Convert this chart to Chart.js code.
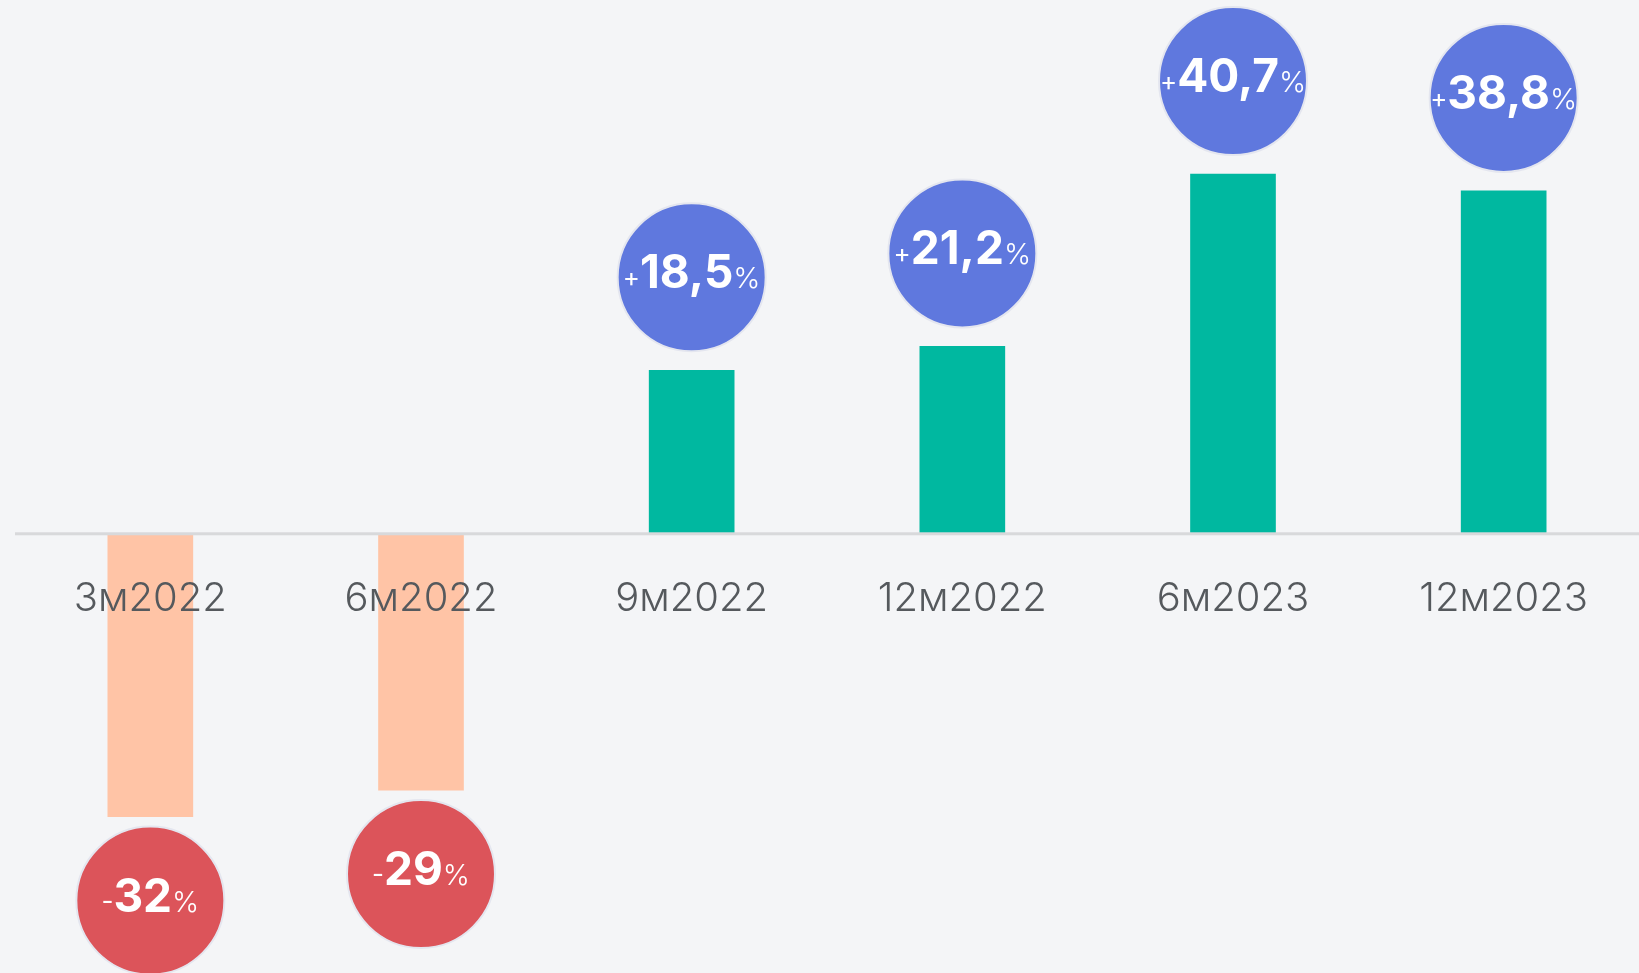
<!DOCTYPE html>
<html>
<head>
<meta charset="utf-8">
<script src="https://cdn.jsdelivr.net/npm/chart.js@4"></script>
<style>
    html, body { margin: 0; padding: 0; background: #f4f5f7; }
    #grafico { display: block; }
</style>
</head>
<body>
<canvas id="grafico" width="1639" height="973"></canvas>
<script>
const periodos = ['3м2022', '6м2022', '9м2022', '12м2022', '6м2023', '12м2023'];
const variacao = [-32, -29, 18.5, 21.2, 40.7, 38.8];

const corPositiva = '#00b8a0';
const corNegativa = '#ffc4a6';
const bolhaPositiva = '#5f78de';
const bolhaNegativa = '#dc545a';

const fonte = 'Inter, "Open Sans", sans-serif';

const bolhas = {
    id: 'bolhas',
    afterDatasetsDraw(chart) {
        const c = chart.ctx;
        const area = chart.chartArea;
        const zero = chart.scales.y.getPixelForValue(0);

        // linha do zero
        c.save();
        c.fillStyle = '#d8d9db';
        c.fillRect(area.left, zero - 1.5, area.right - area.left, 3);

        // rótulos das categorias
        c.fillStyle = '#55595d';
        c.font = '300 40px ' + fonte;
        c.textAlign = 'center';
        c.textBaseline = 'alphabetic';
        const meta = chart.getDatasetMeta(0);
        meta.data.forEach((bar, i) => {
            c.fillText(periodos[i], bar.x, 611);
        });

        // círculos com percentuais
        meta.data.forEach((bar, i) => {
            const v = variacao[i];
            const cy = v >= 0 ? bar.y - 93 : bar.y + 84;
            const r = 74;
            c.beginPath();
            c.arc(bar.x, cy, r, 0, Math.PI * 2);
            c.fillStyle = v >= 0 ? bolhaPositiva : bolhaNegativa;
            c.fill();
            c.lineWidth = 2;
            c.strokeStyle = '#e4e6ef';
            c.stroke();

            const sinal = v >= 0 ? '+' : '-';
            const numero = Math.abs(v).toString().replace('.', ',');
            const fSinal = '400 26px ' + fonte;
            const fNum = '700 46px ' + fonte;
            const fPct = '300 29px ' + fonte;
            c.font = fSinal; const w1 = c.measureText(sinal).width;
            c.font = fNum; const w2 = c.measureText(numero).width;
            c.font = fPct; const w3 = c.measureText('%').width;
            let x = bar.x - (w1 + w2 + w3) / 2;
            const base = cy + 11;
            c.fillStyle = '#ffffff';
            c.textAlign = 'left';
            c.font = fSinal; c.fillText(sinal, x, base - 2); x += w1;
            c.font = fNum; c.fillText(numero, x, base); x += w2;
            c.font = fPct; c.fillText('%', x, base);
        });
        c.restore();
    }
};

const grafico = new Chart(document.getElementById('grafico'), {
    type: 'bar',
    data: {
        labels: periodos,
        datasets: [{
            data: variacao,
            backgroundColor: variacao.map(v => v >= 0 ? corPositiva : corNegativa),
            borderWidth: 0,
            barThickness: 85
        }]
    },
    options: {
        responsive: false,
        animation: false,
        devicePixelRatio: 1,
        layout: { padding: { left: 15, right: 0, top: 0, bottom: 0 } },
        plugins: {
            legend: { display: false },
            tooltip: { enabled: false }
        },
        scales: {
            x: { display: false },
            y: { display: false, min: -49.7, max: 60.4 }
        }
    },
    plugins: [bolhas]
});
</script>
</body>
</html>
